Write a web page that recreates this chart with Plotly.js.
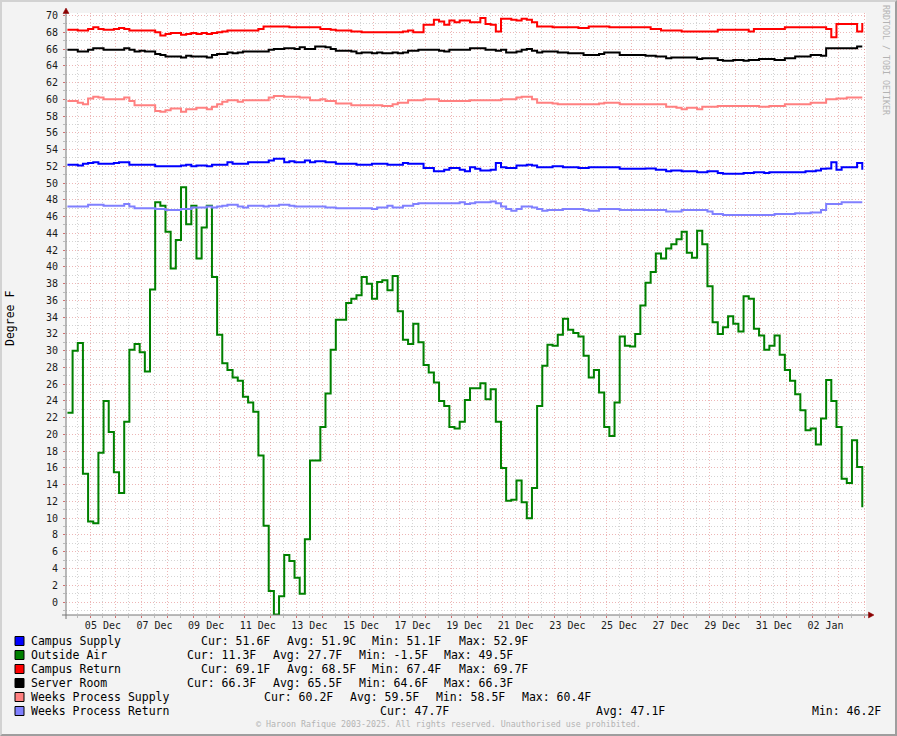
<!DOCTYPE html>
<html>
<head>
<meta charset="utf-8">
<script src="https://cdn.plot.ly/plotly-3.0.1.min.js"></script>
<style>
  html, body { margin: 0; padding: 0; background: #f3f3f3; overflow: hidden; }
  #wrap { position: relative; width: 897px; height: 736px; }
  #chart { width: 897px; height: 736px; }
  #frame { position: absolute; left: 0; top: 0; width: 897px; height: 736px; box-sizing: border-box;
           border-top: 2px solid #d2d2d2; border-left: 2px solid #d2d2d2;
           border-bottom: 2px solid #9e9e9e; border-right: 2px solid #9e9e9e; pointer-events: none; }
</style>
</head>
<body>
<div id="wrap"><div id="chart"></div><div id="frame"></div></div>
<script>
// ---- time base (RRD consolidation step 4.8 h) ----
const START_UTC = Date.UTC(2024, 11, 4, 3, 0);   // first sample, 04 Dec 03:00
const STEP_HOURS = 4.8;
const RANGE_START = '2024-12-04 01:40';
const RANGE_END = '2025-01-04 01:40';

// ---- series (degrees F), one value per 4.8 h step ----
const campusSupply = [
52.2,52.2,52.1,52.3,52.4,52.5,52.3,52.3,52.3,52.4,
52.5,52.5,52.2,52.2,52.2,52.2,52.2,52.0,52.0,52.0,
52.0,52.0,52.1,52.2,52.0,52.1,52.1,52.0,52.2,52.2,
52.2,52.5,52.3,52.3,52.3,52.5,52.5,52.5,52.5,52.7,
52.9,52.9,52.5,52.6,52.5,52.5,52.7,52.5,52.6,52.6,
52.5,52.5,52.3,52.3,52.3,52.3,52.2,52.2,52.2,52.3,
52.3,52.3,52.2,52.2,52.2,52.4,52.3,52.3,52.3,51.8,
51.8,51.4,51.4,51.6,51.8,51.8,51.6,51.4,51.9,51.7,
51.5,51.5,51.6,52.4,51.9,51.8,51.8,52.1,52.1,52.2,
52.1,51.9,51.9,51.9,52.0,52.0,51.9,51.9,51.9,51.8,
51.8,51.9,51.9,51.9,51.9,51.9,51.9,51.7,51.7,51.7,
51.7,51.7,51.75,51.75,51.6,51.6,51.4,51.5,51.5,51.4,
51.4,51.4,51.3,51.3,51.4,51.4,51.2,51.1,51.1,51.1,
51.1,51.2,51.2,51.3,51.3,51.2,51.3,51.3,51.3,51.3,
51.3,51.3,51.3,51.4,51.4,51.5,51.7,51.75,52.5,51.6,
51.9,51.9,51.9,52.4,51.6];

const outsideAir = [
22.6,30.0,30.9,15.3,9.6,9.4,17.8,24.0,20.3,15.5,
13.0,21.5,30.1,30.8,29.8,27.5,37.3,47.7,47.3,44.2,
39.8,43.2,49.5,45.1,47.3,41.0,44.7,47.3,38.8,31.9,
28.5,27.7,26.8,26.4,24.5,23.8,22.7,17.5,9.1,1.3,
-1.5,0.7,5.6,4.9,2.9,1.0,7.5,16.9,16.9,20.9,
24.9,30.1,33.7,33.7,35.7,36.2,36.6,38.8,38.0,36.2,
38.2,38.4,37.2,38.9,34.7,31.3,30.8,33.2,31.0,28.3,
27.4,26.2,24.0,23.4,20.9,20.7,21.5,24.1,25.5,25.5,
26.1,24.2,25.4,21.5,16.0,12.1,12.2,14.5,11.9,10.0,
13.6,23.4,28.2,30.7,30.6,31.9,33.8,32.5,32.1,31.7,
29.4,26.8,27.7,25.0,20.9,19.8,23.8,31.7,30.6,30.5,
32.0,35.4,38.1,39.4,41.6,41.0,42.2,42.7,43.3,44.2,
41.7,41.1,44.3,42.7,37.7,33.4,32.0,32.8,34.1,33.2,
32.3,36.5,36.2,32.6,31.8,30.1,30.6,31.8,29.5,27.7,
26.4,24.8,22.9,20.5,20.7,18.8,21.9,26.5,24.0,20.9,
14.7,14.2,19.3,16.1,11.3];

const campusReturn = [
68.3,68.3,68.2,68.2,68.4,68.6,68.4,68.3,68.3,68.4,
68.5,68.4,68.2,68.2,68.2,68.2,68.2,68.0,67.6,67.8,
67.9,67.9,67.7,67.8,67.9,67.8,67.9,67.8,67.9,68.0,
68.1,68.2,68.2,68.2,68.2,68.2,68.2,68.4,68.7,68.7,
68.7,68.7,68.7,68.6,68.6,68.6,68.6,68.6,68.6,68.4,
68.4,68.3,68.2,68.2,68.2,68.1,68.1,68.0,68.0,68.0,
68.0,68.0,68.0,68.0,68.0,68.1,68.2,68.0,68.0,68.9,
68.9,69.5,69.3,68.9,69.4,69.2,69.4,69.4,69.2,69.2,
69.7,69.0,68.9,68.1,69.6,69.6,69.5,69.4,69.6,69.5,
69.2,68.7,68.7,68.7,68.6,68.6,68.6,68.6,68.6,68.5,
68.5,68.7,68.7,68.7,68.7,68.6,68.6,68.6,68.6,68.6,
68.6,68.6,68.6,68.4,68.4,68.2,68.2,68.2,68.2,68.1,
68.1,68.1,68.1,68.1,68.1,68.1,68.3,68.3,68.3,68.3,
68.3,68.3,68.1,68.4,68.4,68.4,68.4,68.4,68.4,68.6,
68.6,68.6,68.6,68.6,68.6,68.6,68.6,68.4,67.4,69.0,
69.0,69.0,69.0,68.1,69.1];

const serverRoom = [
65.9,65.9,65.7,65.7,65.9,66.1,66.1,65.9,65.9,65.9,
65.9,66.1,65.9,65.7,65.8,65.7,65.7,65.4,65.3,65.1,
65.1,65.1,65.0,65.2,65.1,65.1,65.1,65.0,65.3,65.4,
65.4,65.6,65.5,65.6,65.7,65.7,65.7,65.7,65.7,65.9,
66.0,66.0,66.1,66.1,66.0,66.2,66.0,66.0,66.3,66.3,
66.2,66.0,65.8,65.8,65.8,65.7,65.5,65.6,65.6,65.5,
65.6,65.5,65.5,65.6,65.5,65.6,65.8,65.8,65.9,65.9,
65.9,65.9,65.8,65.7,65.9,65.9,65.9,65.9,66.1,66.1,
66.1,65.9,65.9,65.8,65.9,65.6,65.6,65.7,65.9,66.0,
65.8,65.6,65.7,65.7,65.7,65.6,65.6,65.5,65.5,65.5,
65.3,65.3,65.3,65.4,65.6,65.6,65.6,65.3,65.3,65.3,
65.3,65.3,65.2,65.2,65.1,65.1,64.9,65.0,65.0,65.0,
65.0,65.0,64.8,64.9,64.9,64.9,64.7,64.6,64.6,64.7,
64.7,64.6,64.7,64.7,64.8,64.8,64.8,64.7,64.7,64.9,
64.9,65.1,65.1,65.1,65.3,65.3,65.2,66.1,66.1,66.1,
66.1,66.1,66.1,66.3,66.3];

const weeksProcessSupply = [
59.8,59.8,59.6,59.4,60.1,60.3,60.2,60.0,60.0,60.0,
60.0,60.2,59.8,59.3,59.3,59.3,59.3,58.6,58.5,58.7,
58.9,58.9,58.5,58.8,58.8,59.0,59.0,58.8,59.1,59.4,
59.7,59.9,59.9,59.7,59.9,59.9,59.9,59.9,59.9,60.2,
60.4,60.4,60.3,60.3,60.3,60.2,60.2,59.9,59.9,60.0,
59.8,59.8,59.5,59.5,59.5,59.3,59.3,59.3,59.3,59.3,
59.3,59.2,59.2,59.4,59.6,59.6,59.9,59.9,59.9,60.0,
60.0,60.0,59.8,59.8,59.8,59.8,59.8,59.8,59.9,59.9,
59.9,59.9,59.9,59.9,60.0,60.0,60.0,60.2,60.3,60.3,
60.0,59.6,59.6,59.6,59.5,59.4,59.4,59.4,59.4,59.4,
59.4,59.4,59.4,59.5,59.6,59.6,59.6,59.4,59.4,59.4,
59.4,59.4,59.4,59.4,59.4,59.4,59.1,59.1,59.0,58.8,
59.0,59.0,58.8,59.1,59.1,59.1,59.2,59.2,59.2,59.2,
59.2,59.2,59.2,59.2,59.1,59.1,59.2,59.2,59.2,59.4,
59.4,59.4,59.4,59.4,59.6,59.6,59.6,60.0,60.0,60.1,
60.1,60.2,60.2,60.2,60.2];

const weeksProcessReturn = [
47.2,47.2,47.2,47.2,47.4,47.4,47.4,47.3,47.3,47.3,
47.3,47.5,47.2,47.0,47.0,47.0,47.0,46.9,46.9,46.8,
46.8,46.8,46.9,46.9,47.1,47.1,47.1,47.2,47.1,47.2,
47.3,47.4,47.4,47.2,47.1,47.3,47.3,47.3,47.2,47.3,
47.3,47.4,47.4,47.3,47.2,47.2,47.2,47.2,47.2,47.2,
47.1,47.1,47.0,47.0,47.0,47.0,47.0,47.0,47.0,46.9,
47.1,47.1,47.3,47.1,47.1,47.3,47.3,47.5,47.6,47.6,
47.6,47.6,47.6,47.6,47.6,47.6,47.7,47.5,47.6,47.7,
47.7,47.7,47.8,47.6,47.2,46.9,46.7,46.9,47.2,47.2,
47.1,46.9,46.7,46.8,46.8,46.8,46.9,46.9,46.9,46.9,
46.8,46.7,46.7,46.9,46.9,46.9,46.9,46.8,46.8,46.8,
46.8,46.8,46.8,46.8,46.8,46.8,46.6,46.6,46.6,46.8,
46.8,46.8,46.8,46.8,46.6,46.3,46.3,46.2,46.2,46.2,
46.2,46.2,46.2,46.2,46.2,46.2,46.2,46.3,46.3,46.3,
46.3,46.4,46.4,46.4,46.5,46.5,46.8,47.5,47.5,47.5,
47.7,47.7,47.7,47.7,47.7];

// ---- legend texts ----
const seriesNames = ['Campus Supply', 'Outside Air', 'Campus Return', 'Server Room', 'Weeks Process Supply', 'Weeks Process Return'];
const seriesColors = ['#0000ff', '#008000', '#ff0000', '#000000', '#ff8080', '#8080ff'];
const curText = ['Cur: 51.6F', 'Cur: 11.3F', 'Cur: 69.1F', 'Cur: 66.3F', 'Cur: 60.2F', 'Cur: 47.7F'];
const avgText = ['Avg: 51.9C', 'Avg: 27.7F', 'Avg: 68.5F', 'Avg: 65.5F', 'Avg: 59.5F', 'Avg: 47.1F'];
const minText = ['Min: 51.1F', 'Min: -1.5F', 'Min: 67.4F', 'Min: 64.6F', 'Min: 58.5F', 'Min: 46.2F'];
const maxText = ['Max: 52.9F', 'Max: 49.5F', 'Max: 69.7F', 'Max: 66.3F', 'Max: 60.4F', ''];
const yTitle = 'Degree F';
const copyrightText = '\u00a9 Haroon Rafique 2003-2025. All rights reserved. Unauthorised use prohibited.';
const sideText = 'RRDTOOL / TOBI OETIKER';

// ---- build ----
const seriesValues = [campusSupply, outsideAir, campusReturn, serverRoom, weeksProcessSupply, weeksProcessReturn];
const stepMs = STEP_HOURS * 3600 * 1000;
function fmt(ms) { return new Date(ms).toISOString().slice(0, 19).replace('T', ' '); }
const times = outsideAir.map((_, k) => fmt(START_UTC + k * stepMs));

const traces = seriesValues.map((vals, i) => ({
  type: 'scatter', mode: 'lines', x: times, y: vals, name: seriesNames[i],
  line: { color: seriesColors[i], width: 2, shape: 'hv' }, hoverinfo: 'skip'
}));
traces.push({ type: 'scatter', mode: 'lines', x: [], y: [], xaxis: 'x2', yaxis: 'y', showlegend: false, hoverinfo: 'skip' });

// plot area in pixels
const L = 66, T = 13, W = 800, H = 602;
const X = px => (px - L) / W;
const Y = py => (T + H - py) / H;

const MONO = 'DejaVu Sans Mono';
const annotations = [];
const shapes = [];
const rowY = [641, 655, 669, 683, 697, 711];
const statX = [[200, 286, 371, 458], [186, 272, 358, 443], [200, 286, 371, 458], [186, 272, 358, 443], [263, 349, 435, 521], [379, 595, 811, null]];

function note(text, px, py, opts) {
  annotations.push(Object.assign({
    text: text, xref: 'paper', yref: 'paper', x: X(px), y: Y(py),
    xanchor: 'left', yanchor: 'middle', showarrow: false, borderpad: 0,
    font: { family: MONO, size: 11.5, color: '#000' }
  }, opts || {}));
}

seriesNames.forEach((name, i) => {
  const cy = rowY[i];
  shapes.push({ type: 'rect', xref: 'paper', yref: 'paper', x0: X(15), x1: X(24), y0: Y(cy + 4.5), y1: Y(cy - 4.5),
    fillcolor: seriesColors[i], line: { color: '#000', width: 1 } });
  note(name, 29.5, cy);
  const texts = [curText[i], avgText[i], minText[i], maxText[i]];
  texts.forEach((t, j) => { if (t && statX[i][j] !== null) note(t, statX[i][j] - 0.5, cy); });
});

note(yTitle, 10, 318, { xanchor: 'center', textangle: -90 });
note(copyrightText, 448, 724, { xanchor: 'center', font: { family: MONO, size: 8.3, color: '#b3b3b3' } });
note(sideText, 886, 60, { xanchor: 'center', textangle: 90, font: { family: MONO, size: 8.3, color: '#b3b3b3' } });

// axis lines and arrows
shapes.push({ type: 'line', xref: 'paper', yref: 'paper', x0: X(62), x1: X(869), y0: Y(615), y1: Y(615), line: { color: '#777', width: 1 } });
shapes.push({ type: 'line', xref: 'paper', yref: 'paper', x0: X(66), x1: X(66), y0: Y(619), y1: Y(12), line: { color: '#777', width: 1 } });
shapes.push({ type: 'path', xref: 'paper', yref: 'paper',
  path: `M ${X(868.5)} ${Y(612)} L ${X(874)} ${Y(615)} L ${X(868.5)} ${Y(618)} Z`, fillcolor: '#8b0000', line: { color: '#8b0000', width: 0.5 } });
shapes.push({ type: 'path', xref: 'paper', yref: 'paper',
  path: `M ${X(63)} ${Y(13.5)} L ${X(66)} ${Y(8)} L ${X(69)} ${Y(13.5)} Z`, fillcolor: '#8b0000', line: { color: '#8b0000', width: 0.5 } });

const DAY = 86400000;
const tickFont = { family: MONO, size: 10, color: '#1a1a1a' };
const MAJOR_GRID = 'rgba(220,110,110,0.5)';
const MINOR_GRID = 'rgba(160,160,160,0.45)';
const layout = {
  width: 897, height: 736,
  margin: { l: L, r: 897 - L - W, t: T, b: 736 - T - H, pad: 0 },
  paper_bgcolor: '#f3f3f3', plot_bgcolor: '#ffffff',
  showlegend: false,
  xaxis: {
    type: 'date', range: [RANGE_START, RANGE_END], fixedrange: true,
    tick0: '2024-12-05', dtick: DAY, showticklabels: false,
    showgrid: true, gridcolor: MAJOR_GRID, griddash: '1px,2px', gridwidth: 1,
    ticks: 'outside', ticklen: 2, tickcolor: '#d07070', zeroline: false, showline: false,
    minor: { tick0: '2024-12-05', dtick: DAY / 2, showgrid: true, gridcolor: MINOR_GRID, griddash: '1px,2px', ticks: 'outside', ticklen: 2, tickcolor: '#bbb' }
  },
  xaxis2: {
    type: 'date', range: [RANGE_START, RANGE_END], overlaying: 'x', anchor: 'y', side: 'bottom', fixedrange: true,
    tick0: '2024-12-05 12:00', dtick: 2 * DAY, tickformat: '%d %b', showgrid: false, ticks: '', zeroline: false, showline: false,
    tickfont: tickFont, ticklabelstandoff: 3
  },
  yaxis: {
    range: [-1.55, 70.3], fixedrange: true, tick0: 0, dtick: 2,
    showgrid: true, gridcolor: MAJOR_GRID, griddash: '1px,2px', gridwidth: 1,
    ticks: 'outside', ticklen: 2, tickcolor: '#d07070', zeroline: false, showline: false,
    tickfont: tickFont, ticklabelstandoff: 3,
    minor: { tick0: 0, dtick: 1, showgrid: true, gridcolor: MINOR_GRID, griddash: '1px,2px', ticks: 'outside', ticklen: 2, tickcolor: '#bbb' }
  },
  annotations: annotations,
  shapes: shapes
};

Plotly.newPlot('chart', traces, layout, { displayModeBar: false, staticPlot: true });
</script>
</body>
</html>
